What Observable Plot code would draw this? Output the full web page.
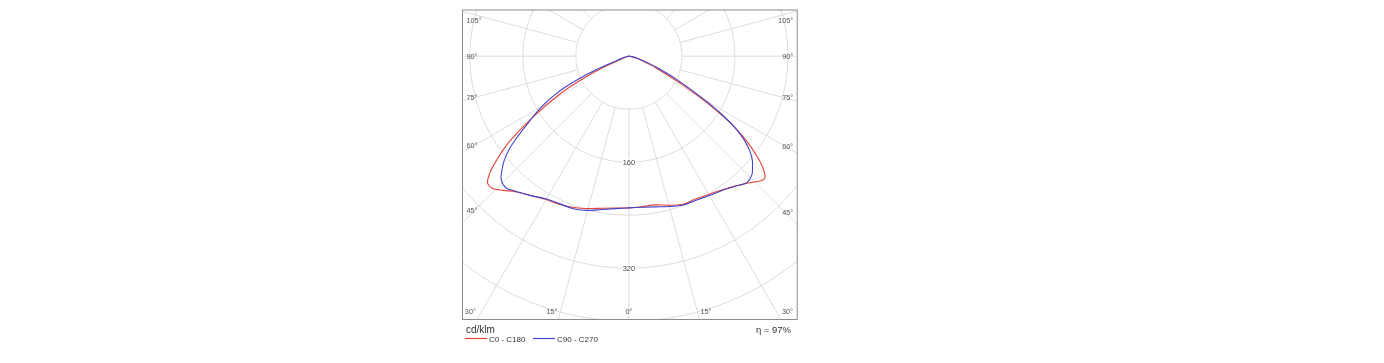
<!DOCTYPE html>
<html><head><meta charset="utf-8">
<script src="https://cdn.jsdelivr.net/npm/d3@7"></script>
<script src="https://cdn.jsdelivr.net/npm/@observablehq/plot@0.6"></script>
<style>
body{margin:0;background:#fff;}
#wrap{position:relative;width:1384px;height:363px;font-family:"Liberation Sans",Arial,sans-serif;}
#wrap svg{display:block;will-change:transform;}
</style>
</head><body><div id="wrap"></div>
<script>
// Polar angles (gamma, degrees from nadir)
const gammaDeg = [0,5,10,15,20,25,30,35,40,43,46,48,50,52,54,56,58,60,62,64,66,68,70,75,80,85,90];
// Luminous intensity, cd/klm
const c0   = [229,228,228,233,238,238,241,246,255,262,272,276,265,245,222,194,158,122,90,64,46,34,24,11,4,1,0];
const c180 = [229,230,233,238,243,247,250,257,267,277,287,287,274,252,228,197,165,136,108,76,46,22,10,4,2,1,0];
const c90  = [229,229,231,235,239,240,243,247,255,261,258,251,243,231,215,193,164,132,102,80,60,45,34,15,6,2,0];
const c270 = [229,231,235,241,245,246,249,257,266,272,268,258,246,230,209,187,169,152,131,108,78,42,20,8,3,1,0];

const gridRadii = [80,160,240,320,400,480];
const radialAngles = [0,15,30,45,60,75,90,105,120,135,150,165,180,195,210,225,240,255,270,285,300,315,330,345];
const intensityLabels = [160,320];
const sideAngleLabels = [45,60,75,90,105];
const bottomAngleLabels = [-30,-15,0,15,30];
const seriesNames = ["C0 - C180","C90 - C270"];
const seriesColors = ["#e2433a","#4343cc"];
const unitLabel = "cd/klm";
const efficiencyLabel = "\u03b7 = 97%";

const xDomain = [-251.2, 254];
const yDomain = [-397.5, 69.7];
const W = 1384, H = 321, mL = 462, mR = 587.3, mT = 9.5, mB = 2;
const s = (W - mL - mR) / (xDomain[1] - xDomain[0]); // px per unit

const rad = d => d * Math.PI / 180;
const half = (vals, side) => gammaDeg.map((g, i) => ({x: side * vals[i] * Math.sin(rad(g)), y: -vals[i] * Math.cos(rad(g))}));
const loop = (right, left) => [...half(right, 1).reverse(), ...half(left, -1).slice(1)];
const redPath = loop(c0, c180);
const bluePath = loop(c90, c270);

const circles = [];
for (const r of gridRadii) for (let a = 0; a <= 360; a += 2) circles.push({r, x: r * Math.sin(rad(a)), y: -r * Math.cos(rad(a))});
const spokes = radialAngles.map(a => ({x1: 80 * Math.sin(rad(a)), y1: -80 * Math.cos(rad(a)), x2: 700 * Math.sin(rad(a)), y2: -700 * Math.cos(rad(a))}));

const angleLabels = [];
for (const a of sideAngleLabels) {
  for (const side of [-1, 1]) {
    const xc = side < 0 ? xDomain[0] + 12 / s : xDomain[1] - 12 / s;
    const t = Math.abs(xc) / Math.sin(rad(a));
    let y = -t * Math.cos(rad(a));
    y = Math.min(y, yDomain[1] - 10.5 / s);
    angleLabels.push({x: side < 0 ? xDomain[0] + 4 / s : xDomain[1] - 4 / s, y, text: a + "\u00b0", anchor: side < 0 ? "start" : "end"});
  }
}
for (const a of bottomAngleLabels) {
  const t = -yDomain[0] / Math.cos(rad(a));
  const x = t * Math.sin(rad(a)) + (a < 0 ? -1 : a > 0 ? 1 : 0) / s;
  angleLabels.push({x, y: yDomain[0] + 8 / s, text: Math.abs(a) + "\u00b0", anchor: a < 0 ? "end" : a > 0 ? "start" : "middle"});
}
const intensityPts = intensityLabels.map(v => ({x: 0, y: -v, text: String(v)}));

const grid = "#dcdcdc";
const labelOpts = anchor => ({x: "x", y: "y", text: "text", filter: d => d.anchor === anchor, textAnchor: anchor, fill: "#555", fontSize: 7.3});
const chart = Plot.plot({
  width: W, height: H,
  marginLeft: mL, marginRight: mR, marginTop: mT, marginBottom: mB,
  x: {domain: xDomain, axis: null},
  y: {domain: yDomain, axis: null},
  style: {background: "transparent", fontFamily: "'Liberation Sans', Arial, sans-serif"},
  marks: [
    Plot.line(circles, {x: "x", y: "y", z: "r", stroke: grid, strokeWidth: 1, clip: true}),
    Plot.link(spokes, {x1: "x1", y1: "y1", x2: "x2", y2: "y2", stroke: grid, strokeWidth: 1, clip: true}),
    Plot.text(intensityPts, {x: "x", y: "y", text: "text", fill: "#444", stroke: "white", strokeWidth: 3, paintOrder: "stroke", fontSize: 7.5}),
    Plot.line(redPath, {x: "x", y: "y", stroke: seriesColors[0], strokeWidth: 1.1, curve: "catmull-rom", clip: true}),
    Plot.line(bluePath, {x: "x", y: "y", stroke: seriesColors[1], strokeWidth: 1.1, curve: "catmull-rom", clip: true}),
    Plot.text(angleLabels, labelOpts("start")),
    Plot.text(angleLabels, labelOpts("end")),
    Plot.text(angleLabels, labelOpts("middle")),
    Plot.frame({stroke: "#8c8c8c", strokeWidth: 1})
  ]
});
const wrap = document.getElementById("wrap");
wrap.appendChild(chart);

// legend below the chart
const lg = d3.create("svg").attr("width", W).attr("height", 363 - H)
  .style("font-family", "'Liberation Sans', Arial, sans-serif");
lg.append("text").attr("x", 466).attr("y", 12).attr("font-size", 10).attr("fill", "#333").text(unitLabel);
lg.append("text").attr("x", 791).attr("y", 12).attr("font-size", 9.5).attr("fill", "#333").attr("text-anchor", "end").text(efficiencyLabel);
const items = [{x0: 465, x1: 487, tx: 489}, {x0: 533, x1: 555, tx: 557}];
items.forEach((it, i) => {
  lg.append("line").attr("x1", it.x0).attr("x2", it.x1).attr("y1", 17.5).attr("y2", 17.5)
    .attr("stroke", seriesColors[i]).attr("stroke-width", 1.2);
  lg.append("text").attr("x", it.tx).attr("y", 20.5).attr("font-size", 8).attr("fill", "#333").text(seriesNames[i]);
});
wrap.appendChild(lg.node());
</script>
</body></html>
